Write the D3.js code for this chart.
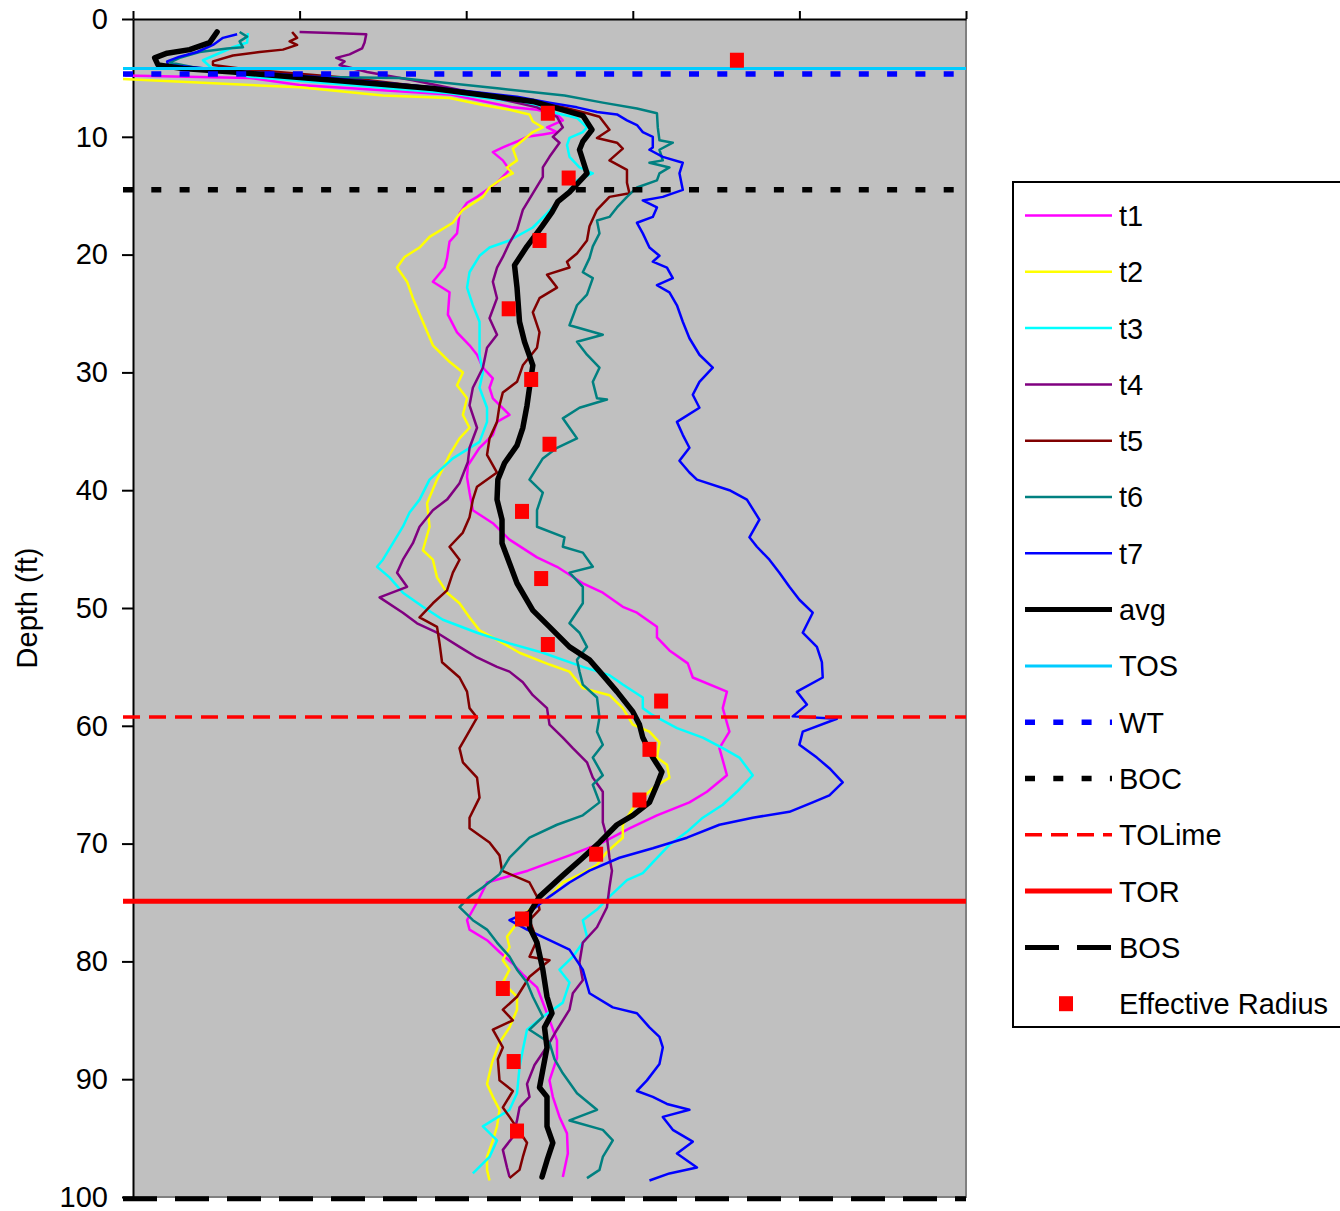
<!DOCTYPE html>
<html>
<head>
<meta charset="utf-8">
<script src="https://cdn.jsdelivr.net/npm/d3@7"></script>
<style>
  body { margin: 0; background: #ffffff; }
  svg { display: block; font-family: "Liberation Sans", Arial, sans-serif; }
</style>
</head>
<body>
<svg id="chart" width="1340" height="1211"></svg>
<script>
// ---- Profiles: [depth (ft), reading] pairs, one array per survey ----
const t1 = [[4.8,-1.0],[5.0,14.0],[5.6,20.0],[6.4,38.0],[7.5,45.6],[7.7,48.5],[8.1,50.9],[8.6,51.6],[9.2,49.7],[9.6,50.9],[9.8,49.2],[10.0,47.3],[10.4,46.1],[10.9,44.4],[11.3,43.2],[12.0,44.4],[12.8,45.2],[13.9,43.7],[15.1,41.3],[15.6,40.1],[16.5,39.2],[18.2,38.9],[18.9,38.0],[20.3,37.7],[21.1,37.4],[22.3,36.0],[23.2,38.0],[25.1,37.8],[26.6,38.9],[27.7,40.4],[28.5,41.3],[29.6,42.0],[30.5,43.2],[31.3,42.8],[32.2,43.2],[33.6,45.2],[34.2,43.7],[35.3,43.2],[36.4,41.6],[37.9,40.2],[38.9,40.1],[40.2,40.4],[41.7,40.8],[42.8,43.2],[44.2,45.2],[45.7,48.5],[46.5,50.9],[47.9,54.0],[48.7,56.4],[49.9,58.8],[50.4,60.5],[51.6,62.9],[52.5,62.9],[53.6,64.4],[54.7,66.6],[55.9,67.2],[57.1,71.3],[58.5,70.8],[60.5,71.6],[61.9,70.4],[64.2,71.3],[65.6,68.9],[66.5,66.8],[67.6,62.9],[68.7,59.6],[69.9,56.4],[71.0,52.4],[72.3,47.4],[73.3,42.5],[75.0,41.3],[76.5,40.1],[77.3,40.4],[78.2,42.5],[79.2,44.0],[80.2,45.6],[81.1,46.8],[82.2,48.5],[84.4,49.7],[86.7,50.9],[88.2,50.9],[90.1,50.0],[91.5,50.4],[93.2,51.2],[94.6,52.1],[96.3,52.2],[98.3,51.6]];

const t2 = [[5.1,-1.2],[5.8,20.0],[6.5,30.0],[6.7,38.0],[7.3,42.0],[7.7,45.2],[8.1,47.6],[8.7,48.0],[9.2,49.2],[9.6,48.0],[10.3,46.8],[11.0,45.6],[12.0,46.1],[12.6,44.9],[13.1,45.6],[13.5,44.4],[14.3,42.8],[15.1,42.0],[16.2,39.6],[17.3,38.4],[18.5,35.6],[19.4,34.4],[20.2,32.6],[21.1,31.7],[22.3,32.9],[23.7,33.6],[25.7,34.8],[27.7,36.0],[29.1,38.0],[30.0,39.6],[31.1,38.9],[32.2,40.1],[33.6,39.6],[34.7,40.4],[35.6,39.2],[37.0,38.0],[37.9,37.4],[39.1,36.5],[41.1,35.3],[43.1,35.6],[45.1,34.8],[45.9,36.0],[47.4,36.5],[48.7,37.7],[49.6,39.2],[50.8,40.4],[51.9,41.6],[52.7,43.7],[53.8,46.4],[54.8,50.0],[55.4,52.4],[56.8,54.0],[57.4,57.2],[58.5,58.8],[59.9,60.0],[60.5,62.0],[61.4,63.2],[62.7,62.9],[63.3,64.1],[64.4,64.4],[65.3,62.4],[66.1,61.2],[67.0,60.0],[68.4,58.8],[69.5,58.8],[70.7,56.9],[71.8,55.7],[72.5,54.0],[73.3,51.6],[74.5,50.0],[75.9,47.0],[77.9,44.9],[78.8,45.2],[79.9,44.4],[80.7,45.2],[81.8,44.4],[83.0,46.1],[84.1,46.1],[85.6,45.2],[86.9,44.0],[88.6,43.1],[90.4,42.5],[91.5,43.2],[92.6,44.0],[94.0,43.7],[95.2,43.2],[96.6,42.5],[97.7,42.5],[98.6,42.8]];

const t3 = [[1.2,13.8],[2.0,13.7],[2.4,12.0],[3.5,8.4],[4.2,9.5],[4.9,14.0],[5.6,26.0],[6.3,38.0],[7.2,47.6],[8.0,50.9],[8.4,53.3],[9.2,54.5],[9.6,54.0],[10.1,52.4],[10.7,52.1],[11.7,52.4],[12.6,53.6],[13.1,55.2],[13.7,53.3],[14.8,52.1],[15.6,50.9],[16.5,49.7],[17.7,48.0],[18.8,45.2],[19.4,42.8],[20.1,41.6],[21.5,40.4],[22.8,40.1],[24.3,40.8],[25.7,41.6],[27.1,41.6],[28.5,41.6],[30.0,42.0],[31.3,41.6],[33.0,42.5],[34.2,42.5],[35.9,41.6],[37.3,38.4],[39.1,35.6],[40.8,34.4],[41.9,33.2],[43.1,32.4],[44.5,31.2],[45.9,30.0],[46.5,29.3],[47.4,30.8],[48.7,32.4],[49.9,34.8],[51.0,37.2],[52.1,41.3],[53.0,45.2],[53.8,49.2],[55.0,54.0],[55.7,57.2],[56.5,58.8],[57.6,61.2],[58.5,61.2],[59.1,62.4],[60.2,65.3],[61.0,68.4],[61.9,70.8],[62.7,72.8],[64.2,74.4],[65.6,72.5],[66.7,70.8],[67.8,68.4],[69.0,66.5],[70.1,64.4],[71.6,62.4],[72.5,61.2],[73.1,59.3],[74.5,57.2],[75.6,55.7],[76.5,54.0],[77.9,54.5],[79.6,52.8],[80.7,51.2],[81.8,52.4],[83.5,51.6],[84.7,49.2],[85.8,47.3],[87.5,46.8],[89.0,46.4],[91.2,46.1],[92.6,45.2],[94.0,42.0],[95.2,43.7],[96.6,42.8],[98.0,40.8]];

const t4 = [[1.1,20.0],[1.2,24.8],[1.3,28.0],[2.0,27.8],[2.5,27.5],[3.0,26.0],[3.3,24.4],[3.6,25.4],[3.9,24.8],[4.5,28.1],[5.2,33.6],[6.2,40.4],[7.5,48.5],[8.3,50.9],[9.2,51.6],[10.0,50.4],[10.5,51.2],[11.7,50.0],[12.6,49.2],[13.4,49.2],[14.8,48.0],[16.2,46.8],[17.9,46.1],[19.0,45.2],[20.2,44.4],[21.1,43.7],[22.3,43.2],[23.7,43.7],[25.4,42.8],[26.8,43.7],[27.9,42.5],[29.6,42.0],[31.3,40.8],[32.8,40.4],[34.7,41.3],[36.4,40.4],[37.6,40.2],[39.4,39.2],[40.8,37.7],[41.7,36.0],[43.1,34.4],[44.5,33.6],[45.9,32.4],[47.0,31.7],[48.2,32.9],[49.1,29.6],[50.4,32.4],[51.3,34.1],[52.1,36.5],[53.3,39.2],[54.2,41.3],[55.0,43.7],[55.4,45.2],[56.3,46.8],[57.4,48.0],[58.5,49.7],[59.9,50.0],[61.0,51.6],[61.9,52.8],[63.1,54.5],[64.4,55.2],[65.6,56.4],[67.0,56.4],[68.2,56.4],[69.5,56.9],[71.2,57.2],[72.3,57.5],[73.7,57.2],[75.4,56.9],[77.1,55.7],[78.4,54.0],[80.1,53.6],[81.6,54.0],[82.7,52.8],[84.1,52.4],[85.8,50.9],[86.9,50.0],[88.8,48.2],[90.4,47.3],[91.5,47.6],[92.4,46.4],[93.5,46.1],[94.9,45.6],[96.0,44.4],[97.5,44.9],[98.3,45.2]];

const t5 = [[1.1,19.1],[1.6,19.7],[1.9,18.8],[2.2,19.7],[2.6,18.0],[2.8,15.2],[3.1,12.0],[3.6,9.6],[3.9,9.6],[4.3,14.0],[5.0,26.0],[6.0,38.0],[7.0,48.8],[8.0,54.5],[8.3,56.0],[9.4,57.2],[10.1,55.7],[10.5,58.1],[11.0,58.8],[12.0,57.2],[12.8,59.3],[13.9,59.3],[14.8,59.6],[15.1,57.2],[16.2,55.7],[17.6,54.8],[18.8,54.5],[19.9,53.3],[20.6,52.1],[21.1,52.4],[21.7,49.7],[22.8,50.9],[23.7,48.8],[24.9,48.0],[26.6,48.8],[27.9,48.5],[29.4,46.8],[30.8,46.1],[31.7,44.4],[32.8,44.0],[34.2,43.7],[35.6,42.8],[37.0,42.5],[38.5,43.7],[39.7,41.3],[40.8,40.8],[42.3,40.4],[43.6,39.6],[44.8,38.0],[45.9,39.2],[47.0,38.4],[48.5,37.7],[49.6,36.0],[50.8,34.4],[51.6,36.5],[53.0,36.8],[54.6,37.1],[55.9,39.2],[57.1,40.1],[58.5,40.4],[59.3,41.3],[60.8,40.1],[61.9,39.2],[63.1,39.6],[64.4,41.3],[66.1,41.6],[67.8,40.4],[68.7,40.4],[69.9,42.8],[71.0,44.0],[72.3,44.3],[73.3,47.6],[74.5,48.5],[75.6,48.8],[76.5,47.6],[78.2,48.5],[79.6,47.6],[79.9,50.0],[81.3,47.6],[83.0,46.1],[84.1,44.4],[85.0,45.6],[85.8,43.2],[87.3,44.4],[88.3,43.8],[90.1,44.0],[91.0,45.6],[92.4,44.4],[93.2,45.2],[95.4,47.3],[96.6,46.8],[97.7,46.4],[98.4,45.2]];

const t6 = [[1.1,12.8],[1.5,13.7],[1.9,12.8],[2.4,13.2],[2.5,11.3],[2.8,8.0],[3.3,5.6],[3.7,4.4],[4.2,8.0],[4.9,20.0],[5.0,32.0],[5.9,44.0],[6.5,51.8],[7.1,56.4],[7.6,60.5],[8.0,62.9],[9.2,63.0],[10.3,63.2],[10.5,64.8],[11.1,63.2],[12.0,63.6],[12.2,62.0],[12.6,64.4],[13.1,63.2],[13.7,62.9],[14.3,60.5],[15.1,59.3],[16.0,58.1],[16.8,57.2],[17.1,55.7],[18.2,56.0],[19.3,55.2],[20.3,54.8],[21.5,54.0],[22.0,55.2],[23.4,54.5],[24.3,53.3],[26.0,52.4],[26.8,56.4],[27.4,53.3],[28.5,54.5],[29.6,56.0],[30.8,55.2],[32.2,55.7],[32.3,56.9],[33.0,53.6],[33.9,51.6],[34.7,52.4],[35.6,53.3],[36.4,50.9],[37.3,49.2],[39.1,47.6],[40.2,49.2],[41.7,48.5],[43.1,48.5],[44.0,51.8],[44.8,51.6],[45.3,54.0],[46.5,55.2],[47.0,52.4],[48.2,54.0],[49.6,54.0],[51.3,52.4],[52.1,53.6],[53.3,54.5],[54.4,53.3],[55.4,53.6],[56.5,54.0],[57.6,55.7],[59.3,56.0],[60.5,55.7],[61.6,56.4],[62.7,55.2],[64.2,56.4],[65.0,55.2],[66.5,56.0],[67.6,54.0],[68.4,50.9],[69.5,47.6],[71.2,45.2],[72.6,44.0],[73.7,42.0],[74.5,40.4],[75.4,39.2],[76.5,40.8],[77.3,42.5],[78.4,43.7],[79.6,45.2],[80.7,46.1],[81.8,47.3],[83.0,48.0],[84.7,49.2],[85.8,47.6],[86.9,50.0],[88.3,50.6],[89.5,51.6],[91.2,53.3],[92.6,55.7],[93.5,52.4],[94.3,56.4],[95.2,57.6],[96.6,56.4],[97.7,56.0],[98.4,54.5]];

const t7 = [[1.3,12.5],[1.6,10.8],[2.2,9.6],[2.8,7.7],[3.2,5.6],[3.6,4.1],[3.9,4.2],[4.3,10.4],[5.0,23.6],[5.8,36.0],[6.6,46.1],[7.1,50.0],[7.5,53.3],[7.9,55.7],[8.1,58.1],[8.6,59.3],[9.0,60.5],[9.6,61.2],[10.0,62.4],[10.9,62.4],[11.1,62.0],[11.7,63.6],[12.2,66.0],[13.1,65.6],[14.5,66.0],[15.1,63.6],[15.4,61.2],[16.0,62.9],[16.8,62.4],[17.3,60.5],[18.2,61.2],[19.4,62.0],[20.1,63.2],[20.6,62.4],[21.1,64.1],[22.0,64.8],[22.6,62.9],[23.2,64.4],[24.3,65.3],[25.7,66.0],[27.1,66.8],[28.5,68.0],[29.6,69.6],[30.8,68.0],[31.9,67.2],[33.0,68.0],[34.2,65.3],[35.3,66.0],[36.4,66.8],[37.5,65.6],[38.5,66.8],[39.1,67.7],[40.0,71.6],[40.8,73.7],[42.5,75.2],[44.0,74.0],[44.8,74.9],[45.9,76.4],[47.0,77.6],[48.2,78.8],[49.3,80.0],[50.4,81.6],[52.1,80.4],[53.3,82.1],[54.6,82.7],[55.9,82.8],[57.1,79.7],[58.2,80.9],[59.2,79.2],[59.4,84.5],[60.5,80.4],[61.6,80.0],[62.7,82.1],[63.6,83.6],[64.8,85.2],[65.9,83.6],[66.5,81.6],[67.3,78.8],[67.8,74.4],[68.4,70.4],[69.5,66.5],[70.4,62.4],[71.2,58.4],[72.3,54.8],[73.3,52.4],[74.5,50.0],[75.6,48.0],[76.5,45.2],[77.3,47.3],[78.2,50.0],[79.0,52.4],[80.7,54.0],[82.7,54.8],[83.9,57.6],[84.4,60.5],[85.6,62.0],[86.4,63.2],[87.3,63.6],[88.7,63.2],[90.1,61.7],[91.0,60.5],[91.5,62.4],[92.1,64.1],[92.6,66.8],[93.2,63.6],[94.3,64.8],[95.3,67.2],[96.3,65.3],[97.5,67.7],[98.0,64.4],[98.6,62.0]];

const avg = [[1.1,10.1],[2.0,9.2],[2.6,6.8],[2.9,4.1],[3.3,2.6],[3.9,3.0],[4.2,6.0],[4.5,12.0],[5.2,24.0],[5.9,36.0],[7.0,48.0],[8.2,54.0],[9.4,55.1],[10.4,54.0],[11.1,53.6],[13.1,54.5],[14.7,52.4],[15.5,51.0],[16.4,50.3],[17.6,49.1],[19.3,47.3],[20.9,45.8],[22.8,46.1],[25.7,46.4],[27.4,47.0],[29.4,48.0],[31.3,47.6],[32.8,47.3],[34.7,46.8],[36.2,46.1],[37.7,44.6],[39.1,43.8],[40.8,43.7],[42.5,44.3],[44.5,44.3],[46.2,45.2],[47.9,46.1],[50.2,48.0],[51.6,50.0],[53.3,52.4],[54.4,54.8],[55.7,56.4],[57.1,58.1],[58.8,60.0],[59.9,60.8],[61.0,61.2],[62.7,62.4],[63.9,63.5],[65.0,62.9],[66.5,62.0],[67.6,60.0],[68.4,58.1],[69.9,56.0],[71.2,54.0],[72.7,51.6],[74.5,48.8],[75.9,47.6],[77.1,47.6],[78.4,48.5],[80.7,49.2],[83.0,49.7],[84.4,50.3],[85.6,49.4],[87.3,49.7],[89.2,49.2],[90.7,48.8],[91.5,49.7],[94.0,49.7],[95.4,50.4],[96.9,49.7],[98.3,49.1]];

const profileNames = ["t1","t2","t3","t4","t5","t6","t7","avg"];
const profiles = [t1, t2, t3, t4, t5, t6, t7, avg];

// ---- Horizontal marker levels (depth, ft) ----
const levelNames = ["TOS","WT","BOC","TOLime","TOR","BOS"];
const levelDepths = [4.2, 4.67, 14.5, 59.25, 74.9, 100.15];
const levelSpan = [-1.2, 100];

// ---- Effective radius points ----
const radiusDepths = [3.5, 8.0, 13.5, 18.8, 24.6, 30.6, 36.1, 41.8, 47.5, 53.1, 57.9, 62.0, 66.3, 70.9, 76.4, 82.3, 88.5, 94.4];
const radiusValues = [72.5, 49.8, 52.3, 48.8, 45.1, 47.8, 50.0, 46.7, 49.0, 49.8, 63.4, 62.0, 60.8, 55.6, 46.7, 44.4, 45.7, 46.1];

// ---- Axis ticks ----
const depthTicks = [0, 10, 20, 30, 40, 50, 60, 70, 80, 90, 100];
const valueTicks = [0, 20, 40, 60, 80, 100];

// ---- Styling ----
const profileStyle = {
  t1:  { color: "#FF00FF", width: 2.5 },
  t2:  { color: "#FFFF00", width: 2.5 },
  t3:  { color: "#00FFFF", width: 2.5 },
  t4:  { color: "#800080", width: 2.5 },
  t5:  { color: "#800000", width: 2.5 },
  t6:  { color: "#008080", width: 2.5 },
  t7:  { color: "#0000FF", width: 2.5 },
  avg: { color: "#000000", width: 5.5 }
};
const levelStyle = {
  TOS:    { color: "#00CCFF", width: 3,   dash: null },
  WT:     { color: "#0000FF", width: 5.5, dash: "10 18.3" },
  BOC:    { color: "#000000", width: 5.5, dash: "10 18.3" },
  TOLime: { color: "#FF0000", width: 3.5, dash: "17 9" },
  TOR:    { color: "#FF0000", width: 5,   dash: null },
  BOS:    { color: "#000000", width: 5,   dash: "34 18" }
};
const markerColor = "#FF0000";
const fontSize = 29;

const svg = d3.select("#chart");
const plot = { left: 133, top: 19, right: 966, bottom: 1197 };

const x = d3.scaleLinear().domain([0, 100]).range([plot.left, plot.right]);
const y = d3.scaleLinear().domain([0, 100]).range([plot.top, plot.bottom]);

// Plot background and its grey right/bottom frame
svg.append("rect")
  .attr("x", plot.left).attr("y", plot.top)
  .attr("width", plot.right - plot.left).attr("height", plot.bottom - plot.top)
  .attr("fill", "#C0C0C0");
svg.append("path")
  .attr("d", `M${plot.right},${plot.top}V${plot.bottom}H${plot.left}`)
  .attr("fill", "none").attr("stroke", "#808080").attr("stroke-width", 2);

// Axes
const yAxis = svg.append("g")
  .attr("transform", `translate(${plot.left},0)`)
  .call(d3.axisLeft(y).tickValues(depthTicks).tickSize(11).tickSizeOuter(0).tickPadding(14));
const xAxis = svg.append("g")
  .attr("transform", `translate(0,${plot.top})`)
  .call(d3.axisTop(x).tickValues(valueTicks).tickSize(8).tickSizeOuter(0).tickFormat(""));
[yAxis, xAxis].forEach(g => {
  g.selectAll("path, line").attr("stroke", "#000").attr("stroke-width", 2);
  g.selectAll("text")
    .attr("fill", "#000")
    .attr("font-size", fontSize)
    .attr("font-family", "'Liberation Sans', Arial, sans-serif");
});

svg.append("text")
  .attr("transform", "translate(27,608) rotate(-90)")
  .attr("text-anchor", "middle")
  .attr("dominant-baseline", "central")
  .attr("font-size", fontSize)
  .text("Depth (ft)");

// Profiles
const line = d3.line().x(d => x(d[1])).y(d => y(d[0]));
profileNames.forEach((name, i) => {
  const st = profileStyle[name];
  svg.append("path")
    .datum(profiles[i])
    .attr("fill", "none")
    .attr("stroke", st.color)
    .attr("stroke-width", st.width)
    .attr("stroke-linejoin", "round")
    .attr("stroke-linecap", name === "avg" ? "round" : "butt")
    .attr("d", line);
});

// Marker levels
levelNames.forEach((name, i) => {
  const st = levelStyle[name];
  svg.append("line")
    .attr("x1", x(levelSpan[0])).attr("x2", x(levelSpan[1]))
    .attr("y1", y(levelDepths[i])).attr("y2", y(levelDepths[i]))
    .attr("stroke", st.color)
    .attr("stroke-width", st.width)
    .attr("stroke-dasharray", st.dash);
});

// Effective radius squares
svg.append("g").selectAll("rect")
  .data(radiusDepths.map((d, i) => [d, radiusValues[i]]))
  .join("rect")
  .attr("x", d => x(d[1]) - 7)
  .attr("y", d => y(d[0]) - 7.5)
  .attr("width", 14).attr("height", 15)
  .attr("fill", markerColor);

// Legend
const legend = svg.append("g");
legend.append("rect")
  .attr("x", 1013).attr("y", 182)
  .attr("width", 345).attr("height", 845)
  .attr("fill", "#fff").attr("stroke", "#000").attr("stroke-width", 2);

const legendItems = profileNames.map(n => ({ label: n, kind: "line", st: { color: profileStyle[n].color, width: profileStyle[n].width === 2.5 ? 2.5 : 5, dash: null } }))
  .concat(levelNames.map(n => ({ label: n, kind: "line", st: levelStyle[n] })))
  .concat([{ label: "Effective Radius", kind: "marker" }]);

legendItems.forEach((item, i) => {
  const cy = 215.5 + i * 56.3;
  if (item.kind === "line") {
    legend.append("line")
      .attr("x1", 1025).attr("x2", 1112)
      .attr("y1", cy).attr("y2", cy)
      .attr("stroke", item.st.color)
      .attr("stroke-width", item.st.width)
      .attr("stroke-dasharray", item.st.dash);
  } else {
    legend.append("rect")
      .attr("x", 1066 - 7).attr("y", cy - 7.5)
      .attr("width", 14).attr("height", 15)
      .attr("fill", markerColor);
  }
  legend.append("text")
    .attr("x", 1119).attr("y", cy)
    .attr("dy", "0.36em")
    .attr("font-size", fontSize)
    .text(item.label);
});
</script>
</body>
</html>
